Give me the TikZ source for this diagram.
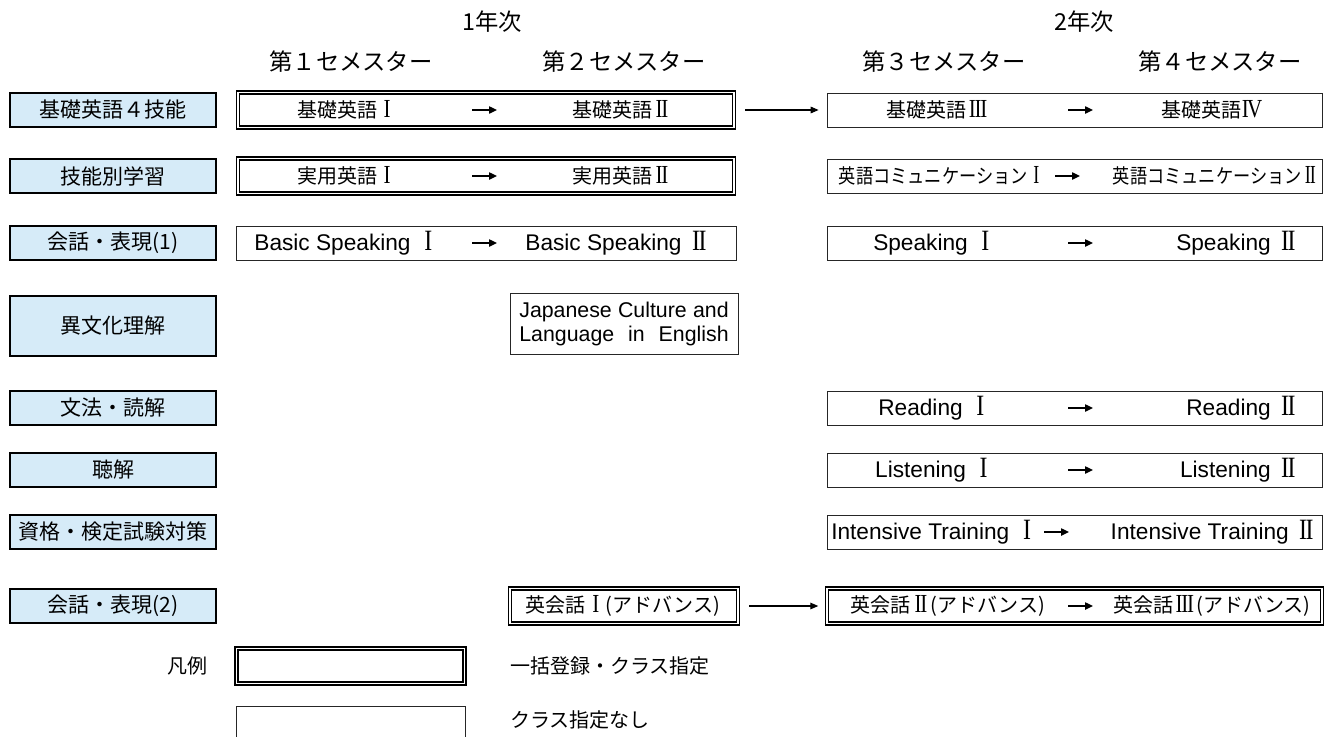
\documentclass[tikz,border=0pt]{standalone}
\usepackage{fontspec}
\usepackage{graphicx}
\setmainfont{Liberation Sans}
\newfontfamily\jp{Noto Sans CJK JP}
\newfontfamily\rom{Liberation Serif}
\usetikzlibrary{arrows.meta}
\definecolor{catblue}{HTML}{D6EBF8}
\newcommand{\RN}[2][1em]{\makebox[#1]{\scalebox{1.05}[1.3]{\rom #2}}}
\newcommand{\RI}{\RN{I}}
\newcommand{\RII}{\RN{I\kern-.06em I}}
\newcommand{\RIII}{\RN[1.15em]{I\kern-.06em I\kern-.06em I}}
\newcommand{\RIV}{\RN[1.1em]{I\kern-.08em V}}
\tikzset{
  every node/.style={inner sep=0pt, anchor=center},
  cat/.style={draw=black, line width=1.6pt, fill=catblue, minimum width=154.5pt, minimum height=25.5pt, inner sep=0pt, font=\jp\fontsize{15.75pt}{18pt}\selectfont},
  dbl/.style={draw=black, double=white, line width=1.1pt, double distance=1.2pt},
  sgl/.style={draw=black!85, line width=0.6pt},
  hd/.style={font=\jp\fontsize{17.5pt}{20pt}\selectfont},
  jt/.style={font=\jp\fontsize{15pt}{18pt}\selectfont},
  lt/.style={font=\fontsize{17pt}{20pt}\selectfont},
  inarrow/.style={line width=1pt, -{Triangle[length=6pt,width=5.5pt]}},
  conn/.style={line width=0.8pt, -{Triangle[length=6pt,width=5pt]}},
}
\begin{document}
\begin{tikzpicture}[x=0.75pt,y=-0.75pt]
\useasboundingbox (0,0) rectangle (1325,736);

% headers
\node[hd] (y1) at (492,22) {1年次};
\node[hd] (y2) at (1084,22) {2年次};
\node[hd] (s1) at (351,62) {第１セメスター};
\node[hd] (s2) at (624,62) {第２セメスター};
\node[hd] (s3) at (944,62) {第３セメスター};
\node[hd] (s4) at (1220,62) {第４セメスター};

% categories
\node[cat] (c1) at (113,110) {基礎英語４技能};
\node[cat] (c2) at (113,176) {技能別学習};
\node[cat] (c3) at (113,243) {会話・表現(1)};
\node[cat, minimum height=45pt] (c4) at (113,326) {異文化理解};
\node[cat] (c5) at (113,408) {文法・読解};
\node[cat] (c6) at (113,470) {聴解};
\node[cat] (c7) at (113,532) {資格・検定試験対策};
\node[cat] (c8) at (113,606) {会話・表現(2)};

% row 1
\node[dbl, minimum width=372pt, minimum height=26.5pt] (b1l) at (486,110) {};
\node[sgl, minimum width=371.25pt, minimum height=25.5pt] (b1r) at (1074.5,110) {};
\node[jt] (t11) at (347,110) {基礎英語\RI};
\node[jt] (t12) at (622,110) {基礎英語\RII};
\node[jt] (t13) at (938,110) {基礎英語\RIII};
\node[jt] (t14) at (1212,110) {基礎英語\RIV};
\coordinate (a11) at (472,110); \coordinate (a12) at (497,110);
\coordinate (a13) at (1068,110); \coordinate (a14) at (1093,110);
\draw[inarrow] (a11) -- (a12);
\draw[inarrow] (a13) -- (a14);
\draw[conn, shorten <=8pt, shorten >=6pt] (b1l.east) -- (b1r.west);

% row 2
\node[dbl, minimum width=372pt, minimum height=26.5pt] (b2l) at (486,176) {};
\node[sgl, minimum width=371.25pt, minimum height=25.5pt] (b2r) at (1074.5,176) {};
\node[jt] (t21) at (347,176) {実用英語\RI};
\node[jt] (t22) at (622,176) {実用英語\RII};
\node[jt] (t23) at (942,176) {\scalebox{0.86}[1]{英語コミュニケーション\RI}};
\node[jt] (t24) at (1216,176) {\scalebox{0.86}[1]{英語コミュニケーション\RII}};
\coordinate (a21) at (472,176); \coordinate (a22) at (497,176);
\coordinate (a23) at (1055,176); \coordinate (a24) at (1080,176);
\draw[inarrow] (a21) -- (a22);
\draw[inarrow] (a23) -- (a24);

% row 3
\node[sgl, minimum width=375pt, minimum height=25.5pt] (b3l) at (486,243) {};
\node[sgl, minimum width=371.25pt, minimum height=25.5pt] (b3r) at (1074.5,243) {};
\node[lt] (t31) at (347,243) {Basic Speaking \RI};
\node[lt] (t32) at (618,243) {Basic Speaking \RII};
\node[lt] (t33) at (935,243) {Speaking \RI};
\node[lt, anchor=east] (t34) at (1300,243) {Speaking \RII};
\coordinate (a31) at (472,243); \coordinate (a32) at (497,243);
\coordinate (a33) at (1068,243); \coordinate (a34) at (1093,243);
\draw[inarrow] (a31) -- (a32);
\draw[inarrow] (a33) -- (a34);

% row 4
\node[sgl, minimum width=171pt, minimum height=46pt, align=center, font=\fontsize{16pt}{17.5pt}\selectfont] (b4) at (624,324) {\makebox[157pt][s]{Japanese Culture and}\\\makebox[157pt][s]{Language in English}};

% row 5
\node[sgl, minimum width=371.25pt, minimum height=25.5pt] (b5r) at (1074.5,408) {};
\node[lt] (t51) at (935,408) {Reading \RI};
\node[lt, anchor=east] (t52) at (1300,408) {Reading \RII};
\coordinate (a51) at (1068,408); \coordinate (a52) at (1093,408);
\draw[inarrow] (a51) -- (a52);

% row 6
\node[sgl, minimum width=371.25pt, minimum height=25.5pt] (b6r) at (1074.5,470) {};
\node[lt] (t61) at (935,470) {Listening \RI};
\node[lt, anchor=east] (t62) at (1300,470) {Listening \RII};
\coordinate (a61) at (1068,470); \coordinate (a62) at (1093,470);
\draw[inarrow] (a61) -- (a62);

% row 7
\node[sgl, minimum width=371.25pt, minimum height=25.5pt] (b7r) at (1074.5,532) {};
\node[lt, anchor=west] (t71) at (831,532) {Intensive Training \RI};
\node[lt, anchor=east] (t72) at (1318,532) {Intensive Training \RII};
\coordinate (a71) at (1044,532); \coordinate (a72) at (1069,532);
\draw[inarrow] (a71) -- (a72);

% row 8
\node[dbl, minimum width=171pt, minimum height=26.5pt] (b8l) at (624,606) {};
\node[dbl, minimum width=371.25pt, minimum height=26.5pt] (b8r) at (1074.5,606) {};
\node[jt] (t81) at (623,606) {英会話\RI(アドバンス)};
\node[jt] (t82) at (948,606) {英会話\RII(アドバンス)};
\node[jt] (t83) at (1212,606) {英会話\RIII(アドバンス)};
\coordinate (a81) at (1068,606); \coordinate (a82) at (1093,606);
\draw[inarrow] (a81) -- (a82);
\draw[conn, shorten <=8pt, shorten >=6pt] (b8l.east) -- (b8r.west);

% legend
\node[jt] (lg) at (187,666) {凡例};
\node[dbl, minimum width=171pt, minimum height=26.5pt] (l1) at (350.5,666) {};
\node[jt, anchor=west] (l1t) at (510,666) {一括登録・クラス指定};
\draw[sgl] (236,740) |- (465,706) -- (465,740);
\node[jt, anchor=west] (l2t) at (510,720) {クラス指定なし};
\end{tikzpicture}
\end{document}
